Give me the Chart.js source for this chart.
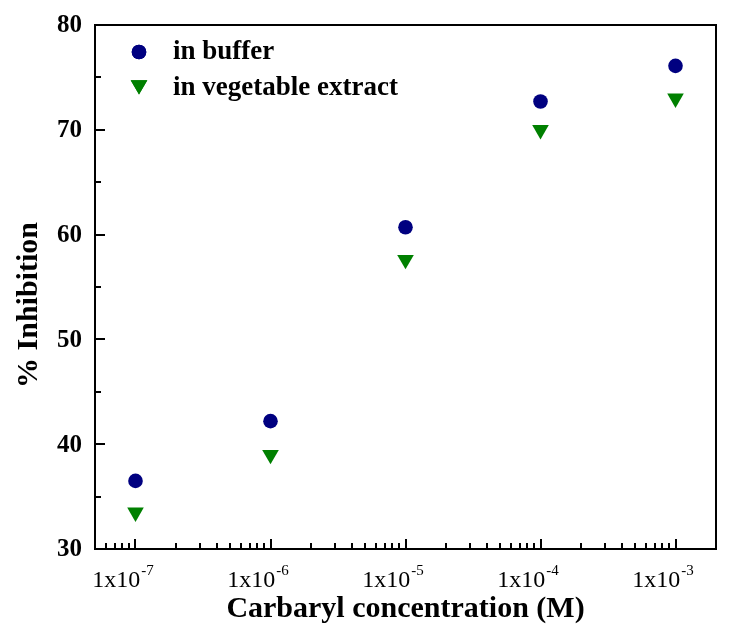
<!DOCTYPE html>
<html>
<head>
<meta charset="utf-8">
<script src="https://cdn.jsdelivr.net/npm/chart.js@4.4.0/dist/chart.umd.min.js"></script>
<style>
  body { margin: 0; background: #fff; }
  #wrap { width: 738px; height: 635px; position: relative; }
</style>
</head>
<body>
<div id="wrap"><canvas id="scatterChart"></canvas></div>
<script>
// concentrations (M) and % inhibition
var concentrations = [1e-7, 1e-6, 1e-5, 1e-4, 1e-3];
var inBuffer = [36.5, 42.2, 60.7, 72.7, 76.1];
var inVegetable = [33.5, 39.0, 57.6, 70.0, 73.0];
var xTickExponents = [-7, -6, -5, -4, -3];
var yTickValues = [30, 40, 50, 60, 70, 80];
var seriesNames = ['in buffer', 'in vegetable extract'];

var serif = '"Liberation Serif", "Times New Roman", serif';

function toPoints(values) {
    return concentrations.map(function (c, i) {
        return { x: c, y: values[i] };
    });
}

// frame, inward ticks, labels, titles and legend
var decorations = {
    id: 'decorations',
    afterDraw: function (chart) {
        var ctx = chart.ctx;
        var area = chart.chartArea;
        var xs = chart.scales.x;
        var ys = chart.scales.y;

        ctx.save();
        ctx.strokeStyle = '#000';
        ctx.lineWidth = 2;
        ctx.strokeRect(area.left, area.top, area.right - area.left, area.bottom - area.top);

        // y ticks (major every 10, minor every 5)
        for (var v = 30; v <= 80; v += 5) {
            var py = Math.round(ys.getPixelForValue(v));
            var len = (v % 10 === 0) ? 10 : 6;
            ctx.beginPath();
            ctx.moveTo(area.left, py);
            ctx.lineTo(area.left + len, py);
            ctx.stroke();
        }

        // x ticks on log scale
        for (var e = -8; e <= -3; e++) {
            for (var m = 1; m <= 9; m++) {
                var val = m * Math.pow(10, e);
                if (val < xs.min || val > xs.max) continue;
                var px = Math.round(xs.getPixelForValue(val));
                var l = (m === 1) ? 10 : 6;
                ctx.beginPath();
                ctx.moveTo(px, area.bottom);
                ctx.lineTo(px, area.bottom - l);
                ctx.stroke();
            }
        }

        // y tick labels
        ctx.fillStyle = '#000';
        ctx.font = 'bold 25px ' + serif;
        ctx.textAlign = 'right';
        ctx.textBaseline = 'middle';
        yTickValues.forEach(function (t) {
            ctx.fillText(String(t), area.left - 13, ys.getPixelForValue(t) + 1);
        });

        // x tick labels with superscript exponent
        ctx.textBaseline = 'alphabetic';
        ctx.textAlign = 'left';
        xTickExponents.forEach(function (ex) {
            var cx = xs.getPixelForValue(Math.pow(10, ex));
            ctx.font = '24px ' + serif;
            var base = '1x10';
            var bw = ctx.measureText(base).width;
            ctx.font = '15px ' + serif;
            var sup = String(ex);
            var sw = ctx.measureText(sup).width;
            var start = cx - 13 - (bw + sw) / 2;
            ctx.font = '24px ' + serif;
            ctx.fillText(base, start, 587);
            ctx.font = '15px ' + serif;
            ctx.fillText(sup, start + bw + 1, 575);
        });

        // axis titles
        ctx.font = 'bold 30px ' + serif;
        ctx.textAlign = 'center';
        ctx.textBaseline = 'middle';
        ctx.fillText('Carbaryl concentration (M)', (area.left + area.right) / 2, 609);
        ctx.save();
        ctx.translate(29, 305);
        ctx.rotate(-Math.PI / 2);
        ctx.fillText('% Inhibition', 0, 0);
        ctx.restore();

        // legend inside the plot
        ctx.textAlign = 'left';
        ctx.font = 'bold 27px ' + serif;
        chart.data.datasets.forEach(function (ds, i) {
            var ly = 52 + i * 36;
            ctx.fillStyle = ds.backgroundColor;
            Chart.helpers.drawPoint(ctx, {
                pointStyle: ds.pointStyle,
                radius: ds.pointRadius,
                rotation: ds.rotation || 0,
                borderWidth: 0
            }, 139, i === 1 ? ly - 3 : ly);
            ctx.fill();
            ctx.fillStyle = '#000';
            ctx.fillText(seriesNames[i], 173, ly);
        });
        ctx.restore();
    }
};

new Chart(document.getElementById('scatterChart').getContext('2d'), {
    type: 'scatter',
    data: {
        datasets: [{
            label: seriesNames[0],
            data: toPoints(inBuffer),
            pointStyle: 'circle',
            pointRadius: 7.3,
            pointHoverRadius: 7.3,
            borderWidth: 0,
            backgroundColor: '#000080',
            borderColor: '#000080'
        }, {
            label: seriesNames[1],
            data: toPoints(inVegetable),
            pointStyle: 'triangle',
            rotation: 180,
            pointRadius: 9.6,
            pointHoverRadius: 9.6,
            borderWidth: 0,
            backgroundColor: '#008000',
            borderColor: '#008000'
        }]
    },
    options: {
        responsive: true,
        maintainAspectRatio: false,
        animation: false,
        layout: { padding: { left: 87, right: 22, top: 25, bottom: 78 } },
        plugins: {
            legend: { display: false },
            tooltip: { enabled: false }
        },
        scales: {
            x: {
                type: 'logarithmic',
                min: Math.pow(10, -7.3),
                max: Math.pow(10, -2.7),
                ticks: { display: false },
                grid: { display: false },
                border: { display: false }
            },
            y: {
                min: 30,
                max: 80,
                ticks: { display: false },
                grid: { display: false },
                border: { display: false }
            }
        }
    },
    plugins: [decorations]
});
</script>
</body>
</html>
